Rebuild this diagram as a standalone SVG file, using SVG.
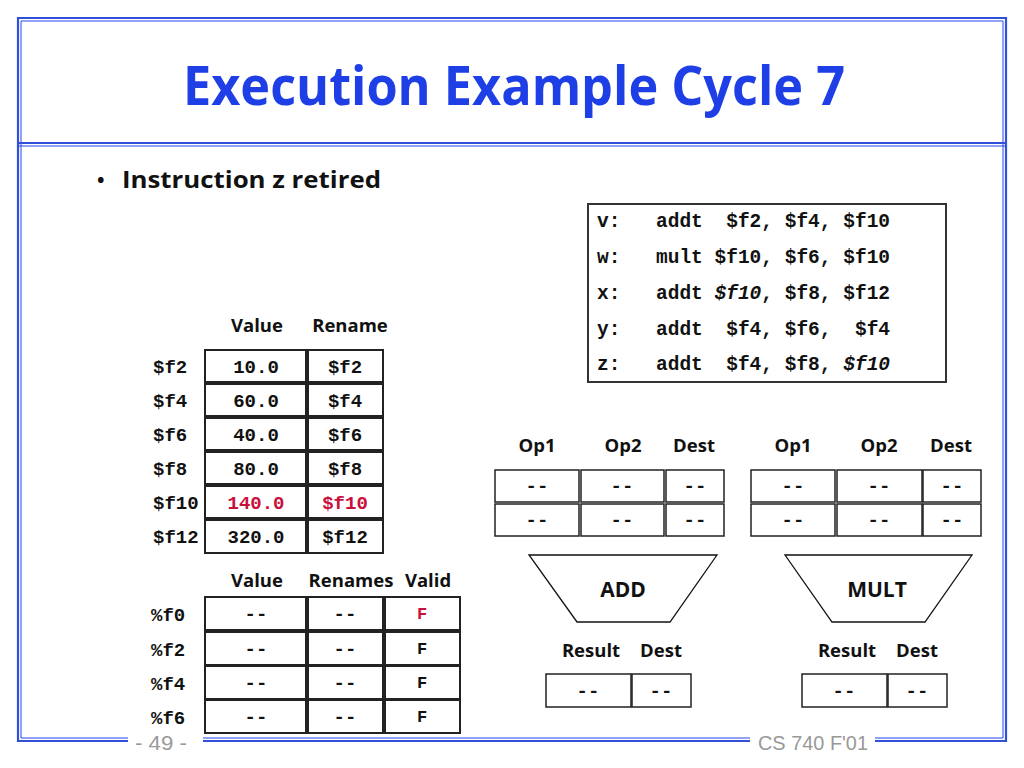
<svg xmlns="http://www.w3.org/2000/svg" width="1024" height="768" viewBox="0 0 1024 768">
<style>
.frame{fill:none;stroke:#3050d8;stroke-width:2.2}
.frame2{fill:none;stroke:#2244ee;stroke-width:1}
.title{font-family:"Open Sans","DejaVu Sans",sans-serif;font-weight:700;font-size:54px;fill:#1f3fe6}
.bul{font-family:"Open Sans","DejaVu Sans",sans-serif;font-weight:700;font-size:23px;fill:#111}
.hdr{font-family:"Open Sans","DejaVu Sans",sans-serif;font-weight:700;font-size:18.5px;fill:#111;text-anchor:middle}
.unit{font-family:"Open Sans","DejaVu Sans",sans-serif;font-weight:700;font-size:21px;fill:#111;text-anchor:middle}
.dash{font-family:"Liberation Mono","Courier New",monospace;font-weight:700;font-size:19px;fill:#111;text-anchor:middle}
.mono{font-family:"Liberation Mono","Courier New",monospace;font-weight:700;font-size:19px;fill:#111}
.monoc{font-family:"Liberation Mono","Courier New",monospace;font-weight:700;font-size:19px;fill:#111;text-anchor:middle}
.ins{font-family:"Liberation Mono","Courier New",monospace;font-weight:700;font-size:19.5px;fill:#111}
.red{fill:#c8103c}
.cell{fill:#fff;stroke:#222;stroke-width:2}
.cellt{fill:#fff;stroke:#222;stroke-width:1.5}
.trap{fill:#fff;stroke:#111;stroke-width:1.3}
.foot{font-family:"Liberation Sans","DejaVu Sans",sans-serif;font-size:21px;fill:#999}
</style>
<rect x="0" y="0" width="1024" height="768" fill="#fff"/>
<g id="frame">
<path class="frame" d="M128,741 H18 V18 H1006 V741 H875"/>
<path class="frame" d="M203,741 H750"/>
<path class="frame2" d="M128,738 H21 V21 H1003 V738 H875"/>
<path class="frame2" d="M203,738 H750"/>
<line class="frame" x1="18" y1="143" x2="1006" y2="143"/>
<line class="frame2" x1="18" y1="146" x2="1006" y2="146"/>
<text class="foot" x="135" y="750" textLength="52" lengthAdjust="spacingAndGlyphs">- 49 -</text>
<text class="foot" x="758" y="750" textLength="110" lengthAdjust="spacingAndGlyphs">CS 740 F'01</text>
</g>
<g id="title">
<text class="title" x="183" y="105" textLength="662" lengthAdjust="spacingAndGlyphs">Execution Example Cycle 7</text>
</g>
<g id="bullet">
<text class="bul" x="97" y="187" style="font-size:20px">•</text>
<text class="bul" x="122" y="188" textLength="259" lengthAdjust="spacingAndGlyphs">Instruction z retired</text>
</g>
<g id="instructions">
<rect x="588" y="204" width="358" height="178" fill="#fff" stroke="#333" stroke-width="2"/>
<text class="ins" x="597" y="227">v:</text>
<text class="ins" x="656" y="227" xml:space="preserve">addt  $f2, $f4, $f10</text>
<text class="ins" x="597" y="263">w:</text>
<text class="ins" x="656" y="263" xml:space="preserve">mult $f10, $f6, $f10</text>
<text class="ins" x="597" y="299">x:</text>
<text class="ins" x="656" y="299" xml:space="preserve">addt <tspan font-style="italic">$f10</tspan>, $f8, $f12</text>
<text class="ins" x="597" y="335">y:</text>
<text class="ins" x="656" y="335" xml:space="preserve">addt  $f4, $f6,  $f4</text>
<text class="ins" x="597" y="370">z:</text>
<text class="ins" x="656" y="370" xml:space="preserve">addt  $f4, $f8, <tspan font-style="italic">$f10</tspan></text>
</g>
<g id="register-file">
<text class="hdr" x="257" y="332">Value</text>
<text class="hdr" x="350" y="332">Rename</text>
<rect class="cell" x="205" y="350" width="101" height="32"/><rect class="cell" x="308" y="350" width="75" height="32"/>
<rect class="cell" x="205" y="384" width="101" height="32"/><rect class="cell" x="308" y="384" width="75" height="32"/>
<rect class="cell" x="205" y="418" width="101" height="32"/><rect class="cell" x="308" y="418" width="75" height="32"/>
<rect class="cell" x="205" y="452" width="101" height="32"/><rect class="cell" x="308" y="452" width="75" height="32"/>
<rect class="cell" x="205" y="486" width="101" height="32"/><rect class="cell" x="308" y="486" width="75" height="32"/>
<rect class="cell" x="205" y="520" width="101" height="33"/><rect class="cell" x="308" y="520" width="75" height="33"/>
<text class="mono" x="153" y="373">$f2</text><text class="monoc" x="256" y="373">10.0</text><text class="monoc" x="345" y="373">$f2</text>
<text class="mono" x="153" y="407">$f4</text><text class="monoc" x="256" y="407">60.0</text><text class="monoc" x="345" y="407">$f4</text>
<text class="mono" x="153" y="441">$f6</text><text class="monoc" x="256" y="441">40.0</text><text class="monoc" x="345" y="441">$f6</text>
<text class="mono" x="153" y="475">$f8</text><text class="monoc" x="256" y="475">80.0</text><text class="monoc" x="345" y="475">$f8</text>
<text class="mono" x="153" y="509">$f10</text><text class="monoc red" x="256" y="509">140.0</text><text class="monoc red" x="345" y="509">$f10</text>
<text class="mono" x="153" y="543">$f12</text><text class="monoc" x="256" y="543">320.0</text><text class="monoc" x="345" y="543">$f12</text>
</g>
<g id="rename-registers">
<text class="hdr" x="257" y="587">Value</text>
<text class="hdr" x="351" y="587">Renames</text>
<text class="hdr" x="428" y="587">Valid</text>
<rect class="cell" x="205" y="597" width="101" height="33"/><rect class="cell" x="308" y="597" width="75" height="33"/><rect class="cell" x="385" y="597" width="75" height="33"/>
<rect class="cell" x="205" y="632" width="101" height="33"/><rect class="cell" x="308" y="632" width="75" height="33"/><rect class="cell" x="385" y="632" width="75" height="33"/>
<rect class="cell" x="205" y="666" width="101" height="33"/><rect class="cell" x="308" y="666" width="75" height="33"/><rect class="cell" x="385" y="666" width="75" height="33"/>
<rect class="cell" x="205" y="700" width="101" height="33"/><rect class="cell" x="308" y="700" width="75" height="33"/><rect class="cell" x="385" y="700" width="75" height="33"/>
<text class="mono" x="151" y="621">%f0</text><text class="monoc" x="256" y="620">--</text><text class="monoc" x="345" y="620">--</text><text class="monoc red" x="422" y="619" style="font-size:17px">F</text>
<text class="mono" x="151" y="656">%f2</text><text class="monoc" x="256" y="655">--</text><text class="monoc" x="345" y="655">--</text><text class="monoc" x="422" y="654" style="font-size:17px">F</text>
<text class="mono" x="151" y="690">%f4</text><text class="monoc" x="256" y="689">--</text><text class="monoc" x="345" y="689">--</text><text class="monoc" x="422" y="688" style="font-size:17px">F</text>
<text class="mono" x="151" y="724">%f6</text><text class="monoc" x="256" y="723">--</text><text class="monoc" x="345" y="723">--</text><text class="monoc" x="422" y="722" style="font-size:17px">F</text>
</g>
<g id="add-stations">
<text class="hdr" x="537" y="452">Op1</text>
<text class="hdr" x="623" y="452">Op2</text>
<text class="hdr" x="694" y="452">Dest</text>
<rect class="cellt" x="495" y="470" width="84" height="32"/><rect class="cellt" x="581" y="470" width="83" height="32"/><rect class="cellt" x="666" y="470" width="58" height="32"/>
<rect class="cellt" x="495" y="504" width="84" height="32"/><rect class="cellt" x="581" y="504" width="83" height="32"/><rect class="cellt" x="666" y="504" width="58" height="32"/>
<text class="dash" x="537" y="492">--</text><text class="dash" x="622" y="492">--</text><text class="dash" x="695" y="492">--</text>
<text class="dash" x="537" y="526">--</text><text class="dash" x="622" y="526">--</text><text class="dash" x="695" y="526">--</text>
</g>
<g id="mult-stations">
<text class="hdr" x="793" y="452">Op1</text>
<text class="hdr" x="879" y="452">Op2</text>
<text class="hdr" x="951" y="452">Dest</text>
<rect class="cellt" x="751" y="470" width="84" height="32"/><rect class="cellt" x="837" y="470" width="85" height="32"/><rect class="cellt" x="923" y="470" width="58" height="32"/>
<rect class="cellt" x="751" y="504" width="84" height="32"/><rect class="cellt" x="837" y="504" width="85" height="32"/><rect class="cellt" x="923" y="504" width="58" height="32"/>
<text class="dash" x="793" y="492">--</text><text class="dash" x="879" y="492">--</text><text class="dash" x="952" y="492">--</text>
<text class="dash" x="793" y="526">--</text><text class="dash" x="879" y="526">--</text><text class="dash" x="952" y="526">--</text>
</g>
<g id="add-unit">
<polygon class="trap" points="529,555 717,555 670,622 577,622"/>
<text class="unit" x="623" y="597">ADD</text>
<text class="hdr" x="591" y="657">Result</text>
<text class="hdr" x="661" y="657">Dest</text>
<rect class="cellt" x="546" y="674" width="85" height="33"/><rect class="cellt" x="632" y="674" width="59" height="33"/>
<text class="dash" x="588" y="697">--</text><text class="dash" x="661" y="697">--</text>
</g>
<g id="mult-unit">
<polygon class="trap" points="785,555 972,555 925,622 832,622"/>
<text class="unit" x="877" y="597">MULT</text>
<text class="hdr" x="847" y="657">Result</text>
<text class="hdr" x="917" y="657">Dest</text>
<rect class="cellt" x="802" y="674" width="85" height="33"/><rect class="cellt" x="888" y="674" width="59" height="33"/>
<text class="dash" x="844" y="697">--</text><text class="dash" x="917" y="697">--</text>
</g>
<g id="connectors"/>
</svg>
